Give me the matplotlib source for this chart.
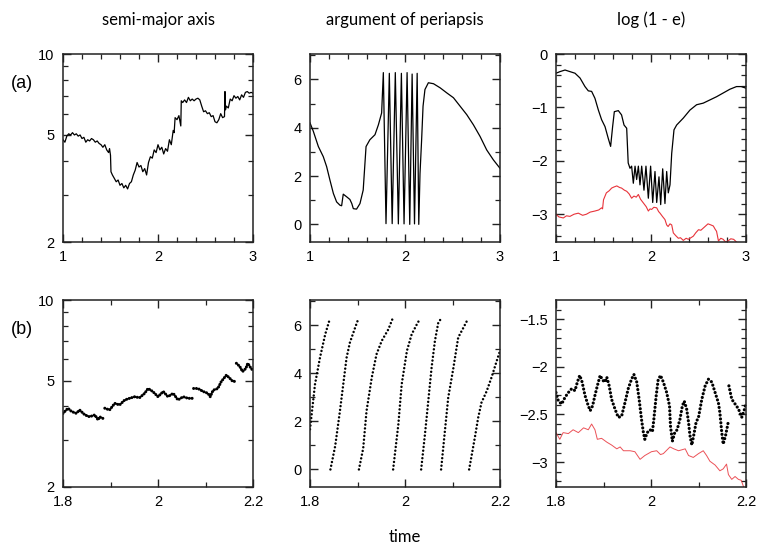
import numpy as np
import matplotlib
matplotlib.use("Agg")
import matplotlib.pyplot as plt
from matplotlib.ticker import FixedLocator, FixedFormatter, NullFormatter

nan = np.nan

# ---------------- data ----------------
titles = ["semi-major axis", "argument of periapsis", "log (1 - e)"]
row_labels = ["(a)", "(b)"]
xlabel_text = "time"

# row (a): time 1..3
sma_a = [(1.00, 4.80), (1.02, 4.70), (1.04, 4.95), (1.06, 5.05), (1.08, 5.00), (1.10, 5.10),
         (1.12, 5.00), (1.14, 5.05), (1.16, 4.95), (1.18, 5.00), (1.20, 4.85), (1.22, 4.90),
         (1.24, 4.70), (1.26, 4.80), (1.28, 4.75), (1.30, 4.85), (1.32, 4.80), (1.34, 4.70),
         (1.36, 4.75), (1.38, 4.65), (1.40, 4.60), (1.42, 4.50), (1.44, 4.60), (1.46, 4.40),
         (1.48, 4.30), (1.49, 4.45), (1.50, 4.20), (1.505, 3.65), (1.52, 3.55), (1.54, 3.45),
         (1.56, 3.35), (1.58, 3.40), (1.60, 3.25), (1.62, 3.30), (1.64, 3.18), (1.66, 3.25),
         (1.68, 3.15), (1.70, 3.30), (1.72, 3.35), (1.74, 3.55), (1.76, 3.70), (1.78, 3.95),
         (1.80, 3.80), (1.82, 3.85), (1.84, 3.65), (1.86, 3.75), (1.88, 3.55), (1.90, 3.95),
         (1.92, 4.15), (1.94, 4.10), (1.96, 4.40), (1.98, 4.30), (2.00, 4.60), (2.02, 4.40),
         (2.04, 4.50), (2.06, 4.25), (2.08, 4.45), (2.10, 4.35), (2.12, 4.80), (2.14, 4.60),
         (2.16, 5.20), (2.17, 5.10), (2.18, 5.80), (2.20, 5.70), (2.22, 5.90), (2.24, 5.40),
         (2.245, 6.70), (2.26, 6.60), (2.28, 6.75), (2.30, 6.60), (2.32, 6.90), (2.34, 6.70),
         (2.36, 6.80), (2.38, 6.70), (2.40, 6.80), (2.42, 6.85), (2.44, 6.75), (2.46, 6.40),
         (2.48, 6.10), (2.50, 6.15), (2.52, 6.00), (2.54, 6.05), (2.56, 5.85), (2.58, 5.90),
         (2.60, 5.60), (2.62, 5.55), (2.64, 5.70), (2.66, 6.00), (2.68, 5.80), (2.70, 5.85),
         (2.705, 7.25), (2.71, 6.20), (2.72, 6.40), (2.74, 6.30), (2.76, 6.80), (2.78, 6.70),
         (2.80, 7.00), (2.82, 6.85), (2.84, 6.95), (2.86, 6.75), (2.88, 7.05), (2.90, 6.90),
         (2.92, 7.20), (2.94, 7.25), (2.96, 7.15), (2.98, 7.20), (3.00, 7.15)]

peri_a = [(1.0, 4.2), (1.035, 3.85), (1.088, 3.22), (1.14, 2.8), (1.175, 2.39), (1.21, 1.83),
          (1.246, 1.28), (1.28, 0.93), (1.316, 0.79), (1.333, 0.77), (1.35, 1.25), (1.386, 1.14),
          (1.42, 1.03), (1.44, 0.86), (1.456, 0.65), (1.49, 0.63), (1.526, 0.86), (1.56, 1.42),
          (1.59, 3.22), (1.63, 3.5), (1.684, 3.71), (1.72, 4.12), (1.754, 4.61), (1.772, 6.28),
          (1.80, 0.03), (1.835, 6.25), (1.865, 0.03), (1.898, 6.28), (1.93, 0.02), (1.962, 6.25),
          (1.99, 0.02), (2.022, 6.28), (2.05, 0.0), (2.075, 6.22), (2.10, 0.02), (2.128, 6.25),
          (2.145, 0.0), (2.158, 2.1), (2.175, 3.5), (2.19, 4.89), (2.21, 5.58), (2.246, 5.86),
          (2.30, 5.82), (2.37, 5.65), (2.44, 5.44), (2.51, 5.24), (2.58, 4.89), (2.65, 4.54),
          (2.72, 4.12), (2.79, 3.64), (2.86, 3.08), (2.93, 2.67), (3.0, 2.32)]

loge_a = [(1.0, -0.36), (1.042, -0.33), (1.095, -0.30), (1.147, -0.33), (1.2, -0.36),
          (1.253, -0.45), (1.305, -0.61), (1.34, -0.69), (1.375, -0.70), (1.41, -0.83),
          (1.446, -1.05), (1.48, -1.23), (1.516, -1.36), (1.55, -1.58), (1.575, -1.73),
          (1.596, -1.36), (1.614, -1.08), (1.656, -1.06), (1.69, -1.14), (1.716, -1.33),
          (1.744, -1.39), (1.76, -2.04), (1.779, -2.14), (1.796, -2.10), (1.814, -2.42),
          (1.832, -2.10), (1.849, -2.35), (1.867, -2.10), (1.884, -2.45), (1.902, -2.10),
          (1.926, -2.55), (1.947, -2.10), (1.972, -2.70), (1.996, -2.10), (2.018, -2.78),
          (2.042, -2.20), (2.06, -2.78), (2.084, -2.30), (2.102, -2.82), (2.123, -2.15),
          (2.147, -2.80), (2.165, -2.20), (2.182, -2.60), (2.2, -2.45), (2.218, -1.86),
          (2.242, -1.42), (2.27, -1.33), (2.34, -1.20), (2.41, -1.05), (2.48, -0.95),
          (2.55, -0.92), (2.62, -0.86), (2.69, -0.80), (2.76, -0.73), (2.83, -0.66),
          (2.9, -0.61), (2.95, -0.61), (3.0, -0.64)]

loge_red_a = [(1.0, -3.0), (1.03, -3.05), (1.077, -3.07), (1.11, -3.03), (1.147, -3.04),
              (1.19, -3.0), (1.235, -2.98), (1.28, -3.02), (1.32, -3.0), (1.36, -2.96),
              (1.41, -2.94), (1.45, -2.92), (1.48, -2.88), (1.49, -2.9), (1.5, -2.73),
              (1.53, -2.6), (1.56, -2.56), (1.586, -2.51), (1.61, -2.49), (1.64, -2.47),
              (1.67, -2.5), (1.69, -2.51), (1.72, -2.55), (1.744, -2.57), (1.77, -2.62),
              (1.796, -2.70), (1.82, -2.66), (1.845, -2.68), (1.867, -2.63), (1.89, -2.72),
              (1.92, -2.79), (1.95, -2.86), (1.972, -2.94), (1.99, -2.9), (2.007, -2.91),
              (2.03, -2.87), (2.06, -2.88), (2.08, -2.95), (2.095, -2.98), (2.12, -3.04),
              (2.147, -3.1), (2.165, -3.2), (2.18, -3.23), (2.2, -3.18), (2.218, -3.2),
              (2.235, -3.35), (2.26, -3.4), (2.288, -3.45), (2.31, -3.44), (2.34, -3.49),
              (2.37, -3.45), (2.393, -3.47), (2.42, -3.44), (2.446, -3.41), (2.47, -3.35),
              (2.5, -3.29), (2.525, -3.3), (2.55, -3.26), (2.575, -3.22), (2.6, -3.18),
              (2.63, -3.2), (2.656, -3.22), (2.675, -3.28), (2.69, -3.32), (2.71, -3.5),
              (2.735, -3.45), (2.76, -3.47), (2.785, -3.52), (2.81, -3.5), (2.84, -3.46),
              (2.87, -3.47), (2.9, -3.52), (2.95, -3.6), (3.0, -3.65)]

# row (b): time 1.8..2.2
sma_b = [(1.8, 3.77), (1.8105, 3.94), (1.818, 3.83), (1.828, 3.77), (1.835, 3.88), (1.846, 3.72),
         (1.856, 3.66), (1.867, 3.72), (1.874, 3.56), (1.877, 3.66), (1.884, 3.61), (1.886, nan),
         (1.888, 3.94), (1.898, 3.88), (1.909, 4.11), (1.919, 4.05), (1.93, 4.23), (1.94, 4.29),
         (1.951, 4.35), (1.961, 4.31), (1.972, 4.48), (1.979, 4.67), (1.989, 4.55), (2.0, 4.35),
         (2.011, 4.55), (2.021, 4.35), (2.032, 4.48), (2.042, 4.23), (2.053, 4.35), (2.063, 4.29),
         (2.072, 4.29), (2.0735, nan), (2.075, 4.67), (2.084, 4.67), (2.095, 4.55), (2.105, 4.48),
         (2.11, 4.35), (2.116, 4.6), (2.126, 4.67), (2.133, 4.95), (2.144, 5.24), (2.151, 5.1),
         (2.158, 4.95), (2.164, 4.98), (2.1645, nan), (2.165, 5.8), (2.172, 5.65), (2.178, 5.4),
         (2.185, 5.55), (2.189, 5.8), (2.196, 5.55), (2.2, 5.45)]

peri_b = [(1.8, 1.67), (1.8105, 3.54), (1.821, 4.65), (1.832, 5.62), (1.842, 6.28), (1.8421, nan),
          (1.843, 0.0), (1.853, 0.97), (1.863, 2.43), (1.87, 3.54), (1.877, 4.65), (1.884, 5.28),
          (1.895, 5.9), (1.902, 6.28), (1.9021, nan),
          (1.903, 0.0), (1.912, 0.88), (1.919, 2.43), (1.93, 3.82), (1.94, 4.79), (1.951, 5.35),
          (1.965, 5.83), (1.974, 6.28), (1.9741, nan),
          (1.975, 0.0), (1.986, 1.875), (1.993, 3.54), (2.004, 4.93), (2.014, 5.62), (2.025, 6.04),
          (2.032, 6.28), (2.0321, nan),
          (2.034, 0.0), (2.042, 1.46), (2.049, 2.85), (2.056, 4.24), (2.063, 5.35), (2.07, 6.1),
          (2.075, 6.25), (2.0751, nan),
          (2.076, 0.0), (2.084, 1.6), (2.091, 2.99), (2.102, 4.24), (2.112, 5.49), (2.123, 5.9),
          (2.133, 6.28), (2.1331, nan),
          (2.135, 0.0), (2.147, 1.32), (2.154, 2.15), (2.161, 2.78), (2.172, 3.26), (2.182, 3.82),
          (2.193, 4.51), (2.2, 4.93)]

loge_b = [(1.8, -2.27), (1.805, -2.36), (1.812, -2.39), (1.819, -2.32), (1.826, -2.27),
          (1.833, -2.23), (1.84, -2.25), (1.845, -2.16), (1.85, -2.09), (1.855, -2.16),
          (1.858, -2.23), (1.861, -2.30), (1.868, -2.41), (1.872, -2.46), (1.877, -2.41),
          (1.882, -2.30), (1.887, -2.2), (1.893, -2.09), (1.898, -2.14), (1.903, -2.16),
          (1.907, -2.11), (1.912, -2.2), (1.917, -2.34), (1.924, -2.44), (1.931, -2.53),
          (1.938, -2.52), (1.945, -2.38), (1.952, -2.23), (1.959, -2.13), (1.964, -2.08),
          (1.97, -2.16), (1.975, -2.34), (1.98, -2.55), (1.984, -2.69), (1.987, -2.76),
          (1.992, -2.69), (1.998, -2.66), (2.003, -2.68), (2.006, -2.55), (2.011, -2.30),
          (2.015, -2.14), (2.02, -2.09), (2.026, -2.16), (2.033, -2.27), (2.039, -2.41),
          (2.041, -2.62), (2.045, -2.78), (2.05, -2.69), (2.055, -2.66), (2.061, -2.55),
          (2.066, -2.41), (2.07, -2.36), (2.075, -2.44), (2.079, -2.58), (2.082, -2.72),
          (2.086, -2.82), (2.091, -2.69), (2.095, -2.58), (2.1, -2.53), (2.107, -2.34),
          (2.114, -2.2), (2.121, -2.13), (2.128, -2.16), (2.135, -2.27), (2.142, -2.38),
          (2.145, -2.48), (2.149, -2.69), (2.152, -2.81), (2.157, -2.72), (2.163, -2.57),
          (2.1635, nan), (2.164, -2.2), (2.17, -2.34), (2.177, -2.39), (2.184, -2.44),
          (2.191, -2.53), (2.196, -2.46), (2.2, -2.38)]

loge_red_b = [(1.8, -2.69), (1.808, -2.76), (1.815, -2.69), (1.826, -2.70), (1.836, -2.66),
              (1.847, -2.69), (1.858, -2.64), (1.868, -2.66), (1.875, -2.60), (1.882, -2.66),
              (1.887, -2.76), (1.896, -2.75), (1.907, -2.79), (1.917, -2.82), (1.928, -2.86),
              (1.935, -2.84), (1.942, -2.88), (1.956, -2.88), (1.966, -2.89), (1.977, -2.97),
              (1.987, -2.93), (2.001, -2.89), (2.012, -2.88), (2.02, -2.92), (2.026, -2.91),
              (2.04, -2.84), (2.048, -2.86), (2.058, -2.88), (2.072, -2.86), (2.079, -2.93),
              (2.089, -2.95), (2.1, -2.91), (2.11, -2.88), (2.117, -2.93), (2.124, -2.99),
              (2.135, -3.03), (2.145, -3.09), (2.152, -3.07), (2.159, -3.02), (2.163, -3.13),
              (2.17, -3.18), (2.177, -3.15), (2.184, -3.18), (2.19, -3.19), (2.195, -3.26),
              (2.2, -3.30)]

# axis settings
xticks_a = [1, 2, 3]
xticklabels_a = ["1", "2", "3"]
xminor_a = [1.2, 1.4, 1.6, 1.8, 2.2, 2.4, 2.6, 2.8]
xticks_b = [1.8, 2.0, 2.2]
xticklabels_b = ["1.8", "2", "2.2"]
xminor_b = [1.9, 2.1]

sma_ticks = [2, 5, 10]
sma_ticklabels = ["2", "5", "10"]
sma_minor = [3, 4, 6, 7, 8, 9]
peri_ticks = [0, 2, 4, 6]
peri_ticklabels = ["0", "2", "4", "6"]
peri_minor = [1, 3, 5, 7]
loge_ticks_a = [-3, -2, -1, 0]
loge_ticklabels_a = ["\u22123", "\u22122", "\u22121", "0"]
loge_minor_a = [-3.4, -3.2, -2.8, -2.6, -2.4, -2.2, -1.8, -1.6, -1.4, -1.2,
                -0.8, -0.6, -0.4, -0.2]
loge_ticks_b = [-3, -2.5, -2, -1.5]
loge_ticklabels_b = ["\u22123", "\u22122.5", "\u22122", "\u22121.5"]
loge_minor_b = [-3.2, -3.1, -2.9, -2.8, -2.7, -2.6, -2.4, -2.3, -2.2, -2.1,
                -1.9, -1.8, -1.7, -1.6, -1.4]

# ---------------- figure ----------------
W, H = 759, 547
fig = plt.figure(figsize=(W / 100, H / 100), dpi=100)

col_x = [63, 310, 556]
row_y = [(54, 242), (300, 487)]
axw = 190

tick_font = dict(family=["Liberation Sans", "DejaVu Sans"], size=10.5)
title_font = ["Lato", "DejaVu Sans"]


def make_ax(c, r):
    top, bot = row_y[r]
    ax = fig.add_axes([col_x[c] / W, 1 - bot / H, axw / W, (bot - top) / H])
    for s in ax.spines.values():
        s.set_linewidth(1.1)
        s.set_color("#222222")
    ax.tick_params(which="both", direction="in", top=True, right=True,
                   colors="#222222", labelcolor="black", pad=6)
    ax.tick_params(which="major", length=6, width=1.0)
    ax.tick_params(which="minor", length=3.5, width=0.9)
    return ax


def style_ticks(ax, xt, xl, xm, yt, yl, ym):
    ax.xaxis.set_major_locator(FixedLocator(xt))
    ax.xaxis.set_major_formatter(FixedFormatter(xl))
    ax.xaxis.set_minor_locator(FixedLocator(xm))
    ax.xaxis.set_minor_formatter(NullFormatter())
    ax.yaxis.set_major_locator(FixedLocator(yt))
    ax.yaxis.set_major_formatter(FixedFormatter(yl))
    ax.yaxis.set_minor_locator(FixedLocator(ym))
    ax.yaxis.set_minor_formatter(NullFormatter())
    for lab in ax.get_xticklabels() + ax.get_yticklabels():
        lab.set_fontfamily(tick_font["family"])
        lab.set_fontsize(tick_font["size"])


def xy(pts):
    t, v = zip(*pts)
    return np.array(t, float), np.array(v, float)


red = "#e8333a"

# ---- row (a)
ax = make_ax(0, 0)
ax.set_yscale("log")
t, v = xy(sma_a)
ax.plot(t, v, color="black", lw=0.9)
ax.set_xlim(1, 3)
ax.set_ylim(2, 10)
style_ticks(ax, xticks_a, xticklabels_a, xminor_a, sma_ticks, sma_ticklabels, sma_minor)

ax = make_ax(1, 0)
t, v = xy(peri_a)
ax.plot(t, v, color="black", lw=0.9)
ax.set_xlim(1, 3)
ax.set_ylim(-0.73, 7.05)
style_ticks(ax, xticks_a, xticklabels_a, xminor_a, peri_ticks, peri_ticklabels, peri_minor)

ax = make_ax(2, 0)
t, v = xy(loge_red_a)
ax.plot(t, v, color=red, lw=0.8)
t, v = xy(loge_a)
ax.plot(t, v, color="black", lw=0.9)
ax.set_xlim(1, 3)
ax.set_ylim(-3.52, 0)
style_ticks(ax, xticks_a, xticklabels_a, xminor_a, loge_ticks_a, loge_ticklabels_a, loge_minor_a)

# ---- row (b)
ax = make_ax(0, 1)
ax.set_yscale("log")
t, v = xy(sma_b)
ax.plot(t, v, color="black", lw=2.2, linestyle=(0, (0.01, 0.9)),
        dash_capstyle="round", dash_joinstyle="round")
ax.set_xlim(1.8, 2.2)
ax.set_ylim(2, 10)
style_ticks(ax, xticks_b, xticklabels_b, xminor_b, sma_ticks, sma_ticklabels, sma_minor)

ax = make_ax(1, 1)
t, v = xy(peri_b)
ax.plot(t, v, color="black", lw=1.8, linestyle=(0, (0.01, 1.5)),
        dash_capstyle="round")
ax.set_xlim(1.8, 2.2)
ax.set_ylim(-0.73, 7.05)
style_ticks(ax, xticks_b, xticklabels_b, xminor_b, peri_ticks, peri_ticklabels, peri_minor)

ax = make_ax(2, 1)
t, v = xy(loge_red_b)
ax.plot(t, v, color=red, lw=0.7, alpha=0.85)
t, v = xy(loge_b)
ax.plot(t, v, color="black", lw=2.3, linestyle=(0, (0.01, 1.2)),
        dash_capstyle="round")
ax.set_xlim(1.8, 2.2)
ax.set_ylim(-3.26, -1.3)
style_ticks(ax, xticks_b, xticklabels_b, xminor_b, loge_ticks_b, loge_ticklabels_b, loge_minor_b)

# ---- texts
centers = [c + axw / 2 for c in col_x]
for cx, ttl in zip(centers, titles):
    fig.text(cx / W, 1 - 20 / H, ttl, ha="center", va="center",
             fontsize=12, family=title_font)
fig.text(22 / W, 1 - 83 / H, row_labels[0], ha="center", va="center",
         fontsize=13, family=["Liberation Sans", "DejaVu Sans"])
fig.text(22 / W, 1 - 330 / H, row_labels[1], ha="center", va="center",
         fontsize=13, family=["Liberation Sans", "DejaVu Sans"])
fig.text(centers[1] / W, 1 - 537 / H, xlabel_text, ha="center", va="center",
         fontsize=12, family=title_font)

fig.savefig("out.png", dpi=100)
